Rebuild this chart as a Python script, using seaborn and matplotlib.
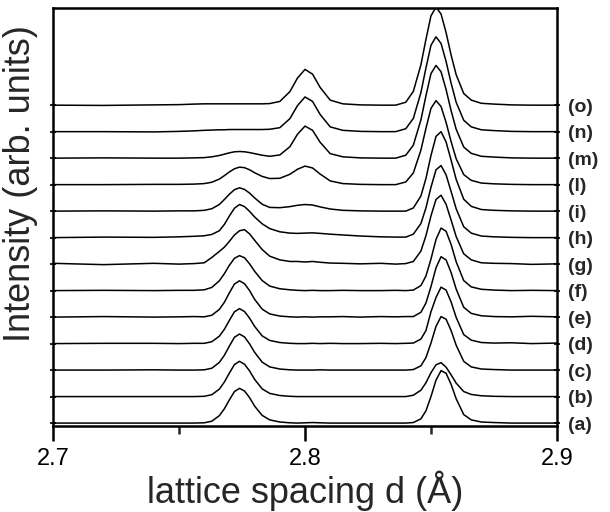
import numpy as np
import pandas as pd
import matplotlib
matplotlib.use("Agg")
import matplotlib.pyplot as plt
import seaborn as sns

# lattice spacing grid (Angstrom), shared by every profile
d_grid = [2.700, 2.720, 2.740, 2.750, 2.756, 2.760, 2.763, 2.766, 2.768, 2.770,
          2.772, 2.774, 2.776, 2.778, 2.780, 2.783, 2.786, 2.790, 2.794, 2.797,
          2.800, 2.803, 2.806, 2.810, 2.815, 2.822, 2.830, 2.836, 2.840, 2.843,
          2.846, 2.848, 2.850, 2.852, 2.854, 2.856, 2.858, 2.860, 2.863, 2.866,
          2.870, 2.875, 2.882, 2.890, 2.900]

# intensity of each profile above its own baseline (arb. units)
prof_a = [0.00, 0.00, 0.00, 0.00, 0.00, 0.01, 0.07, 0.28, 0.54, 0.88,
          1.19, 1.31, 1.21, 0.96, 0.64, 0.29, 0.12, 0.04, 0.01, 0.00,
          0.01, 0.02, 0.01, 0.00, 0.00, 0.00, 0.00, 0.00, 0.00, 0.02,
          0.16, 0.46, 1.00, 1.62, 1.98, 1.88, 1.46, 0.92, 0.32, 0.12,
          0.04, 0.02, 0.00, 0.00, 0.00]
prof_b = [0.00, 0.00, 0.00, 0.00, 0.00, 0.01, 0.07, 0.28, 0.55, 0.89,
          1.21, 1.33, 1.22, 0.97, 0.65, 0.29, 0.12, 0.04, 0.01, 0.00,
          0.00, 0.00, 0.00, 0.00, 0.00, 0.00, 0.00, 0.00, 0.00, 0.05,
          0.24, 0.52, 0.90, 1.20, 1.28, 1.11, 0.82, 0.51, 0.19, 0.08,
          0.03, 0.01, 0.00, 0.00, 0.00]
prof_c = [0.00, 0.00, 0.01, 0.00, 0.00, 0.01, 0.07, 0.29, 0.56, 0.91,
          1.24, 1.36, 1.25, 0.99, 0.67, 0.30, 0.12, 0.04, 0.01, 0.00,
          0.00, 0.00, 0.01, 0.00, 0.00, 0.00, 0.00, 0.00, 0.00, 0.02,
          0.16, 0.47, 1.02, 1.65, 2.02, 1.92, 1.49, 0.94, 0.33, 0.12,
          0.04, 0.02, 0.00, 0.00, 0.00]
prof_d = [0.00, 0.01, 0.01, 0.00, 0.01, 0.01, 0.07, 0.28, 0.54, 0.88,
          1.20, 1.32, 1.21, 0.96, 0.65, 0.29, 0.12, 0.04, 0.01, 0.00,
          0.00, 0.01, 0.00, 0.01, 0.00, 0.00, 0.01, 0.00, 0.01, 0.02,
          0.17, 0.49, 1.20, 1.74, 2.13, 2.02, 1.57, 0.99, 0.34, 0.13,
          0.04, 0.02, 0.03, 0.00, 0.02]
prof_e = [0.00, 0.02, 0.00, 0.01, 0.02, 0.01, 0.07, 0.29, 0.56, 0.92,
          1.25, 1.37, 1.26, 1.00, 0.67, 0.30, 0.12, 0.04, 0.01, 0.00,
          0.01, 0.00, 0.01, 0.01, 0.02, 0.00, 0.02, 0.01, 0.02, 0.02,
          0.18, 0.53, 1.15, 1.86, 2.28, 2.16, 1.68, 1.06, 0.37, 0.14,
          0.05, 0.02, 0.01, 0.03, 0.01]
prof_f = [0.00, 0.01, 0.00, 0.01, 0.01, 0.03, 0.12, 0.37, 0.64, 0.96,
          1.22, 1.32, 1.24, 1.01, 0.73, 0.38, 0.17, 0.07, 0.03, 0.01,
          0.00, 0.01, 0.00, 0.00, 0.01, 0.00, 0.00, 0.01, 0.00, 0.02,
          0.19, 0.55, 1.19, 1.93, 2.36, 2.24, 1.74, 1.09, 0.38, 0.14,
          0.05, 0.02, 0.00, 0.01, 0.00]
prof_g = [0.03, -0.02, 0.03, 0.00, 0.02, 0.05, 0.25, 0.48, 0.64, 0.86,
          1.10, 1.26, 1.30, 1.14, 0.90, 0.55, 0.30, 0.16, 0.10, 0.10,
          0.08, 0.10, 0.07, 0.04, 0.03, 0.01, 0.03, 0.00, 0.02, 0.10,
          0.49, 1.07, 1.82, 2.44, 2.60, 2.26, 1.66, 1.04, 0.39, 0.16,
          0.05, 0.03, 0.02, -0.01, 0.01]
prof_h = [0.00, 0.02, 0.01, 0.03, 0.05, 0.07, 0.12, 0.26, 0.50, 0.82,
          1.11, 1.25, 1.17, 0.99, 0.78, 0.52, 0.34, 0.22, 0.17, 0.16,
          0.17, 0.18, 0.16, 0.13, 0.10, 0.06, 0.03, 0.02, 0.02, 0.13,
          0.53, 1.12, 1.90, 2.56, 2.72, 2.37, 1.74, 1.09, 0.41, 0.17,
          0.06, 0.03, 0.01, 0.00, 0.00]
prof_i = [0.00, 0.01, 0.00, 0.01, 0.01, 0.03, 0.09, 0.25, 0.44, 0.64,
          0.81, 0.88, 0.82, 0.68, 0.50, 0.26, 0.14, 0.13, 0.17, 0.22,
          0.25, 0.23, 0.16, 0.08, 0.03, 0.01, 0.00, 0.00, 0.00, 0.12,
          0.57, 1.23, 2.10, 2.82, 3.00, 2.61, 1.92, 1.20, 0.45, 0.18,
          0.06, 0.03, 0.01, 0.00, 0.00]
prof_l = [0.00, 0.00, 0.01, 0.01, 0.02, 0.04, 0.09, 0.21, 0.34, 0.48,
          0.60, 0.66, 0.64, 0.56, 0.45, 0.31, 0.23, 0.24, 0.39, 0.58,
          0.70, 0.63, 0.40, 0.14, 0.04, 0.01, 0.00, 0.00, 0.10, 0.44,
          1.30, 2.12, 2.88, 3.17, 2.95, 2.35, 1.62, 0.98, 0.38, 0.16,
          0.06, 0.03, 0.01, 0.00, 0.00]
prof_m = [0.00, 0.01, 0.00, 0.00, 0.01, 0.02, 0.05, 0.10, 0.15, 0.20,
          0.24, 0.25, 0.24, 0.21, 0.17, 0.11, 0.07, 0.12, 0.43, 0.90,
          1.21, 1.05, 0.60, 0.17, 0.05, 0.01, 0.00, 0.00, 0.11, 0.49,
          1.44, 2.35, 3.19, 3.50, 3.26, 2.59, 1.79, 1.09, 0.42, 0.18,
          0.07, 0.04, 0.01, 0.00, 0.00]
prof_n = [0.00, 0.00, -0.01, 0.01, 0.03, 0.05, 0.06, 0.07, 0.07, 0.08,
          0.08, 0.08, 0.08, 0.08, 0.08, 0.08, 0.09, 0.15, 0.49, 0.98,
          1.31, 1.14, 0.65, 0.18, 0.05, 0.01, 0.00, 0.00, 0.11, 0.50,
          1.47, 2.40, 3.26, 3.58, 3.33, 2.65, 1.83, 1.11, 0.43, 0.18,
          0.07, 0.04, 0.01, 0.00, 0.00]
prof_o = [0.00, -0.01, 0.01, 0.02, 0.04, 0.05, 0.05, 0.05, 0.05, 0.05,
          0.05, 0.05, 0.05, 0.05, 0.05, 0.05, 0.06, 0.14, 0.51, 1.02,
          1.35, 1.17, 0.67, 0.19, 0.05, 0.01, 0.00, 0.00, 0.11, 0.52,
          1.52, 2.48, 3.37, 3.70, 3.44, 2.74, 1.89, 1.15, 0.44, 0.19,
          0.07, 0.04, 0.01, 0.00, 0.00]

# bottom to top
curve_labels = ["(a)", "(b)", "(c)", "(d)", "(e)", "(f)", "(g)",
                "(h)", "(i)", "(l)", "(m)", "(n)", "(o)"]
profiles = [prof_a, prof_b, prof_c, prof_d, prof_e, prof_f, prof_g,
            prof_h, prof_i, prof_l, prof_m, prof_n, prof_o]

frames = []
for k, (lab, prof) in enumerate(zip(curve_labels, profiles)):
    frames.append(pd.DataFrame({"d": d_grid,
                                "y": np.array(prof) + k,
                                "curve": lab}))
df = pd.concat(frames, ignore_index=True)

sns.set_style("ticks")
plt.rcParams["font.family"] = ["Liberation Sans", "DejaVu Sans"]

fig = plt.figure(figsize=(6.1, 5.12), dpi=100)
ax = fig.add_axes([0.087, 0.168, 0.826, 0.816])

sns.lineplot(data=df, x="d", y="y", units="curve", estimator=None,
             color="black", lw=1.1, ax=ax, legend=False)

ax.set_xlim(2.7, 2.9)
ax.set_ylim(-0.11, 15.66)

ax.set_xticks([2.7, 2.8, 2.9])
ax.set_xticklabels(["2.7", "2.8", "2.9"], fontsize=17)
ax.set_xticks([2.75, 2.85], minor=True)
ax.tick_params(axis="x", which="major", direction="out", length=11,
               width=1.8, pad=5, colors="black")
ax.tick_params(axis="x", which="minor", direction="out", length=6,
               width=1.8)

ax.set_yticks(range(len(curve_labels)))
ax.set_yticklabels(curve_labels, fontsize=14, fontweight="bold")
ax.tick_params(axis="y", which="both", direction="inout", length=4,
               width=1.5, left=True, right=True, labelleft=False,
               labelright=True, pad=6)

for side in ["left", "right", "top", "bottom"]:
    ax.spines[side].set_visible(True)
    ax.spines[side].set_linewidth(1.8)
    ax.spines[side].set_color("black")

ax.set_xlabel("lattice spacing d (Å)", fontsize=26, labelpad=0)
ax.set_ylabel("Intensity (arb. units)", fontsize=26)
ax.yaxis.set_label_coords(-0.03, 0.58)
ax.grid(False)

fig.savefig("out.png", dpi=100)
